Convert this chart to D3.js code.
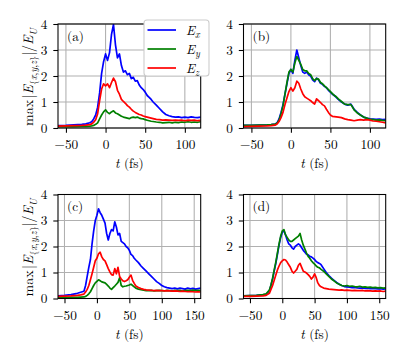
<!DOCTYPE html>
<html>
<head>
<meta charset="utf-8">
<script src="https://cdn.jsdelivr.net/npm/d3@7"></script>
<style>
  body { margin: 0; background: #fff; }
  svg { display: block; }
  text { font-family: "Latin Modern Roman", "Liberation Serif", serif; fill: #000; }
</style>
</head>
<body>
<div id="chart"></div>
<script>
// time grids (fs)
const timeTop = [-60, -50, -40, -30, -25, -20, -17.5, -15, -12.5, -10, -7.5, -5, -2.5, 0, 2.5, 5, 7.5, 10, 12.5, 15, 17.5, 20, 22.5, 25, 27.5, 30, 32.5, 35, 37.5, 40, 42.5, 45, 47.5, 50, 52.5, 55, 57.5, 60, 64, 68, 72, 76, 80, 84, 88, 92, 96, 100, 104, 108, 112, 116, 120];
const timeBottom = [-60, -50, -40, -30, -25, -20, -17.5, -15, -12.5, -10, -7.5, -5, -2.5, 0, 2.5, 5, 7.5, 10, 12.5, 15, 17.5, 20, 22.5, 25, 27.5, 30, 32.5, 35, 37.5, 40, 42.5, 45, 47.5, 50, 52.5, 55, 57.5, 60, 64, 68, 72, 76, 80, 84, 88, 92, 96, 100, 104, 108, 112, 116, 120, 124, 128, 132, 136, 140, 144, 148, 152, 156, 160];

// panel (a)
const exA = [0.09, 0.1, 0.12, 0.14, 0.16, 0.2, 0.24, 0.35, 0.5, 0.8, 1.35, 2.1, 2.55, 2.85, 2.6, 2.9, 3.6, 3.98, 3.2, 2.7, 2.85, 2.4, 2.15, 2.2, 2.05, 2.1, 1.9, 1.95, 1.8, 1.82, 1.65, 1.55, 1.48, 1.38, 1.25, 1.18, 1.1, 1.0, 0.88, 0.75, 0.62, 0.52, 0.47, 0.44, 0.42, 0.43, 0.4, 0.42, 0.4, 0.43, 0.41, 0.4, 0.42];
const eyA = [0.05, 0.05, 0.05, 0.06, 0.06, 0.07, 0.08, 0.1, 0.14, 0.2, 0.35, 0.5, 0.62, 0.7, 0.6, 0.55, 0.62, 0.66, 0.58, 0.55, 0.5, 0.45, 0.42, 0.4, 0.38, 0.36, 0.4, 0.42, 0.4, 0.42, 0.38, 0.36, 0.35, 0.32, 0.3, 0.28, 0.26, 0.25, 0.23, 0.22, 0.2, 0.21, 0.22, 0.2, 0.22, 0.21, 0.23, 0.22, 0.24, 0.22, 0.23, 0.22, 0.24];
const ezA = [0.07, 0.08, 0.09, 0.1, 0.11, 0.13, 0.16, 0.22, 0.32, 0.55, 1.05, 1.5, 1.7, 1.62, 1.7, 1.55, 1.75, 1.92, 1.78, 1.45, 1.3, 1.1, 1.02, 0.95, 0.86, 0.8, 0.72, 0.65, 0.6, 0.56, 0.52, 0.5, 0.46, 0.44, 0.42, 0.4, 0.38, 0.36, 0.33, 0.32, 0.3, 0.31, 0.3, 0.29, 0.3, 0.29, 0.3, 0.28, 0.3, 0.29, 0.3, 0.28, 0.29];

// panel (b)
const exB = [0.1, 0.1, 0.11, 0.12, 0.13, 0.15, 0.2, 0.35, 0.6, 0.9, 1.3, 1.7, 2.1, 2.25, 2.1, 2.6, 3.0, 2.7, 2.4, 2.15, 2.1, 2.15, 2.05, 2.0, 1.85, 1.78, 1.92, 1.85, 1.72, 1.68, 1.6, 1.55, 1.45, 1.38, 1.3, 1.25, 1.18, 1.1, 1.0, 0.92, 0.88, 0.92, 0.72, 0.6, 0.5, 0.42, 0.38, 0.35, 0.34, 0.33, 0.34, 0.32, 0.33];
const eyB = [0.1, 0.1, 0.11, 0.12, 0.13, 0.15, 0.18, 0.3, 0.55, 0.85, 1.3, 1.75, 2.15, 2.25, 2.15, 2.5, 2.75, 2.6, 2.45, 2.25, 2.2, 2.2, 2.1, 2.05, 1.9, 1.82, 1.9, 1.88, 1.75, 1.7, 1.62, 1.55, 1.48, 1.4, 1.32, 1.25, 1.2, 1.12, 1.02, 0.92, 0.9, 0.9, 0.7, 0.58, 0.5, 0.42, 0.38, 0.33, 0.32, 0.3, 0.31, 0.29, 0.28];
const ezB = [0.05, 0.06, 0.07, 0.08, 0.09, 0.11, 0.15, 0.25, 0.4, 0.6, 0.9, 1.15, 1.4, 1.55, 1.42, 1.55, 1.8, 1.72, 1.5, 1.32, 1.2, 1.15, 1.1, 1.05, 0.98, 0.92, 1.12, 1.05, 0.98, 0.9, 0.85, 0.72, 0.6, 0.5, 0.45, 0.44, 0.43, 0.42, 0.4, 0.35, 0.32, 0.3, 0.28, 0.3, 0.32, 0.3, 0.32, 0.3, 0.27, 0.26, 0.24, 0.22, 0.2];

// panel (c)
const exC = [0.1, 0.12, 0.15, 0.2, 0.24, 0.28, 0.5, 0.85, 1.2, 1.5, 2.1, 2.6, 3.0, 3.2, 3.45, 3.3, 3.2, 3.05, 2.9, 2.5, 2.25, 2.5, 2.65, 2.6, 2.95, 2.75, 2.45, 2.5, 2.2, 2.15, 2.1, 2.0, 1.95, 1.85, 1.7, 1.65, 1.55, 1.48, 1.38, 1.25, 1.15, 1.05, 0.95, 0.85, 0.75, 0.65, 0.58, 0.5, 0.45, 0.42, 0.4, 0.38, 0.4, 0.37, 0.4, 0.38, 0.36, 0.4, 0.37, 0.39, 0.36, 0.38, 0.4];
const eyC = [0.03, 0.03, 0.04, 0.04, 0.05, 0.06, 0.08, 0.12, 0.18, 0.26, 0.38, 0.5, 0.6, 0.66, 0.72, 0.68, 0.64, 0.62, 0.6, 0.54, 0.48, 0.4, 0.35, 0.42, 0.48, 0.55, 0.62, 0.8, 0.5, 0.45, 0.47, 0.48, 0.5, 0.52, 0.55, 0.5, 0.45, 0.4, 0.36, 0.34, 0.32, 0.3, 0.3, 0.31, 0.29, 0.3, 0.31, 0.3, 0.29, 0.31, 0.3, 0.29, 0.31, 0.3, 0.31, 0.29, 0.3, 0.31, 0.3, 0.32, 0.3, 0.31, 0.3];
const ezC = [0.08, 0.09, 0.1, 0.12, 0.14, 0.17, 0.25, 0.35, 0.5, 0.72, 0.95, 1.2, 1.45, 1.55, 1.72, 1.78, 1.6, 1.5, 1.45, 1.3, 1.15, 1.02, 0.92, 0.9, 1.15, 0.95, 1.2, 0.85, 0.75, 0.68, 0.65, 0.68, 0.72, 0.82, 0.9, 0.7, 0.58, 0.48, 0.42, 0.38, 0.35, 0.33, 0.32, 0.31, 0.3, 0.31, 0.3, 0.3, 0.29, 0.3, 0.29, 0.28, 0.29, 0.28, 0.27, 0.28, 0.27, 0.26, 0.27, 0.26, 0.25, 0.26, 0.25];

// panel (d)
const exD = [0.1, 0.11, 0.12, 0.14, 0.16, 0.3, 0.5, 0.75, 1.05, 1.35, 1.7, 2.05, 2.35, 2.55, 2.6, 2.45, 2.25, 2.1, 2.05, 1.95, 1.9, 2.0, 2.05, 2.1, 2.05, 1.95, 1.85, 1.78, 1.7, 1.68, 1.62, 1.6, 1.55, 1.5, 1.42, 1.38, 1.35, 1.3, 1.15, 1.0, 0.88, 0.78, 0.7, 0.62, 0.55, 0.5, 0.46, 0.45, 0.44, 0.42, 0.43, 0.41, 0.4, 0.41, 0.39, 0.4, 0.38, 0.39, 0.38, 0.37, 0.38, 0.36, 0.37];
const eyD = [0.1, 0.11, 0.12, 0.15, 0.18, 0.32, 0.52, 0.78, 1.1, 1.4, 1.75, 2.1, 2.4, 2.6, 2.65, 2.45, 2.35, 2.25, 2.2, 2.2, 2.25, 2.3, 2.35, 2.4, 2.5, 2.25, 2.05, 1.9, 1.75, 1.62, 1.55, 1.45, 1.38, 1.32, 1.25, 1.2, 1.18, 1.12, 1.05, 0.95, 0.85, 0.75, 0.68, 0.6, 0.55, 0.5, 0.48, 0.5, 0.47, 0.48, 0.46, 0.45, 0.47, 0.44, 0.45, 0.43, 0.44, 0.42, 0.43, 0.41, 0.42, 0.4, 0.41];
const ezD = [0.08, 0.08, 0.09, 0.1, 0.12, 0.2, 0.35, 0.5, 0.7, 0.9, 1.1, 1.25, 1.38, 1.45, 1.5, 1.48, 1.4, 1.3, 1.2, 1.05, 0.98, 1.05, 1.12, 1.28, 1.35, 1.2, 1.05, 1.02, 0.98, 0.92, 0.85, 0.75, 0.82, 0.95, 0.8, 0.6, 0.5, 0.45, 0.4, 0.38, 0.36, 0.35, 0.34, 0.33, 0.32, 0.33, 0.31, 0.32, 0.31, 0.3, 0.31, 0.3, 0.3, 0.31, 0.29, 0.3, 0.29, 0.28, 0.29, 0.28, 0.29, 0.27, 0.28];

const xTicksTop = [-50, 0, 50, 100];
const xTicksBottom = [-50, 0, 50, 100, 150];
const yTicks = [0, 1, 2, 3, 4];
const components = ["x", "y", "z"];
const colors = ["#0000ff", "#008000", "#ff0000"];

const width = 408;
const height = 360;
const fontSize = 13.3;
const serif = "Latin Modern Roman";

const panels = [
  { name: "(a)", time: timeTop, values: [exA, eyA, ezA], domain: [-60, 120], ticks: xTicksTop, x0: 58, x1: 200.7, y0: 24, y1: 128, yLabel: true },
  { name: "(b)", time: timeTop, values: [exB, eyB, ezB], domain: [-60, 120], ticks: xTicksTop, x0: 243.5, x1: 385.7, y0: 24, y1: 128, yLabel: false },
  { name: "(c)", time: timeBottom, values: [exC, eyC, ezC], domain: [-60, 160], ticks: xTicksBottom, x0: 58, x1: 200.7, y0: 194.5, y1: 298.5, yLabel: true },
  { name: "(d)", time: timeBottom, values: [exD, eyD, ezD], domain: [-60, 160], ticks: xTicksBottom, x0: 243.5, x1: 385.7, y0: 194.5, y1: 298.5, yLabel: false }
];

const svg = d3.select("#chart")
  .append("svg")
  .attr("width", width)
  .attr("height", height)
  .style("font-size", fontSize + "px");

const minus = s => String(s).replace("-", "\u2212");

panels.forEach((p, i) => drawPanel(p, i));
drawLegend();

function drawPanel(p, i) {
  const x = d3.scaleLinear().domain(p.domain).range([p.x0, p.x1]);
  const y = d3.scaleLinear().domain([0, 4]).range([p.y1, p.y0]);
  const g = svg.append("g");

  // grid
  g.append("g")
    .selectAll("line")
    .data(p.ticks)
    .enter()
    .append("line")
    .attr("x1", d => x(d)).attr("x2", d => x(d))
    .attr("y1", p.y0).attr("y2", p.y1)
    .attr("stroke", "#b0b0b0")
    .attr("stroke-width", 1.07);
  g.append("g")
    .selectAll("line")
    .data(yTicks)
    .enter()
    .append("line")
    .attr("x1", p.x0).attr("x2", p.x1)
    .attr("y1", d => y(d)).attr("y2", d => y(d))
    .attr("stroke", "#b0b0b0")
    .attr("stroke-width", 1.07);

  // curves
  g.append("clipPath")
    .attr("id", "clip" + i)
    .append("rect")
    .attr("x", p.x0).attr("y", p.y0)
    .attr("width", p.x1 - p.x0).attr("height", p.y1 - p.y0);

  const line = d3.line()
    .x(d => x(d[0]))
    .y(d => y(d[1]));

  p.values.forEach((vals, k) => {
    g.append("path")
      .datum(p.time.map((t, j) => [t, vals[j]]))
      .attr("d", line)
      .attr("clip-path", `url(#clip${i})`)
      .attr("fill", "none")
      .attr("stroke", colors[k])
      .attr("stroke-width", 1.7)
      .attr("stroke-linejoin", "round");
  });

  // axes
  const xAxis = d3.axisBottom(x)
    .tickValues(p.ticks)
    .tickSize(4.7)
    .tickPadding(5)
    .tickFormat(minus);
  const yAxis = d3.axisLeft(y)
    .tickValues(yTicks)
    .tickSize(4.7)
    .tickPadding(6)
    .tickFormat(d => d);

  const gx = g.append("g")
    .attr("transform", `translate(0,${p.y1})`)
    .call(xAxis);
  const gy = g.append("g")
    .attr("transform", `translate(${p.x0},0)`)
    .call(yAxis);
  [gx, gy].forEach(a => {
    a.attr("font-family", serif).attr("font-size", fontSize);
    a.select(".domain").remove();
    a.selectAll(".tick line").attr("stroke", "#000").attr("stroke-width", 1.07);
  });
  gx.selectAll(".tick text").attr("dy", "0.85em");
  gy.selectAll(".tick text").attr("dy", "0.33em");

  // frame
  g.append("rect")
    .attr("x", p.x0).attr("y", p.y0)
    .attr("width", p.x1 - p.x0).attr("height", p.y1 - p.y0)
    .attr("fill", "none")
    .attr("stroke", "#000")
    .attr("stroke-width", 1.07);

  // panel tag
  g.append("text")
    .attr("x", p.x0 + 9)
    .attr("y", p.y0 + 16.5)
    .text(p.name);

  // x label
  const xl = g.append("text")
    .attr("x", (p.x0 + p.x1) / 2)
    .attr("y", p.y1 + 40)
    .attr("text-anchor", "middle");
  xl.append("tspan").attr("font-style", "italic").text("t");
  xl.append("tspan").text(" (fs)");

  if (p.yLabel) {
    const yl = g.append("text")
      .attr("text-anchor", "middle")
      .attr("font-size", 14)
      .attr("transform", `translate(33,${(p.y0 + p.y1) / 2 + 1}) rotate(-90)`);
    yl.append("tspan").text("max");
    yl.append("tspan").attr("dx", 1.5).text("|");
    yl.append("tspan").attr("font-style", "italic").text("E");
    const sub = [["{", false], ["x", true], [",", false], ["y", true], [",", false], ["z", true], ["}", false]];
    sub.forEach((s, j) => {
      const ts = yl.append("tspan")
        .attr("font-size", 10)
        .attr("font-style", s[1] ? "italic" : "normal")
        .text(s[0]);
      if (j === 0) ts.attr("dy", 3.5);
    });
    yl.append("tspan").attr("dy", -3.5).text("|/");
    yl.append("tspan").attr("font-style", "italic").text("E");
    yl.append("tspan")
      .attr("font-size", 10)
      .attr("font-style", "italic")
      .attr("dy", 3.5)
      .text("U");
  }
}

function drawLegend() {
  const lg = svg.append("g");
  lg.append("rect")
    .attr("x", 144).attr("y", 20)
    .attr("width", 65).attr("height", 56)
    .attr("rx", 3)
    .attr("fill", "#fff")
    .attr("stroke", "#cccccc")
    .attr("stroke-width", 1.07);

  const rows = lg.selectAll("g.row")
    .data(components)
    .enter()
    .append("g")
    .attr("class", "row")
    .attr("transform", (d, i) => `translate(0,${30 + i * 19})`);

  rows.append("line")
    .attr("x1", 147.5).attr("x2", 176)
    .attr("stroke", (d, i) => colors[i])
    .attr("stroke-width", 1.7);

  const label = rows.append("text")
    .attr("x", 186)
    .attr("y", 4.5);
  label.append("tspan").attr("font-style", "italic").text("E");
  label.append("tspan")
    .attr("font-style", "italic")
    .attr("font-size", 10)
    .attr("dy", 3)
    .text(d => d);
}
</script>
</body>
</html>
